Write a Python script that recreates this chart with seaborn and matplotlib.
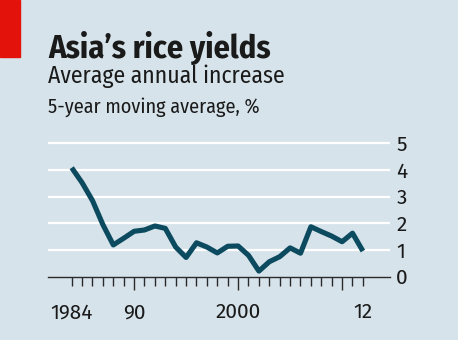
import matplotlib
matplotlib.use("Agg")
import matplotlib.pyplot as plt
import seaborn as sns
import pandas as pd
from matplotlib.patches import Rectangle

# ---- data ----
years = list(range(1984, 2013))
values = [4.08, 3.52, 2.85, 1.95, 1.19, 1.44, 1.70, 1.75, 1.90, 1.81,
          1.11, 0.72, 1.27, 1.11, 0.89, 1.14, 1.15, 0.80, 0.21, 0.56,
          0.75, 1.08, 0.88, 1.87, 1.69, 1.52, 1.31, 1.63, 0.96]
yticks = [0, 1, 2, 3, 4, 5]
xtick_pos = [1984, 1990, 2000, 2010, 2012]
xtick_labels = ["1984", "90", "2000", "", "12"]
title = "Asia\u2019s rice yields"
subtitle = "Average annual increase"
subsub = "5-year moving average, %"

BG = "#d6e3ea"
LINE = "#0c4b5f"
RED = "#e3120b"
TXT = "#1a1a1a"

sns.set_style("white", rc={"axes.facecolor": BG, "figure.facecolor": BG})
cond = ["Fira Sans Condensed", "DejaVu Sans"]
plt.rcParams["font.family"] = ["Fira Sans", "DejaVu Sans"]

df = pd.DataFrame({"year": years, "value": values})

W, H = 458, 340
fig = plt.figure(figsize=(W / 100, H / 100), dpi=100, facecolor=BG)
left, right = 48, 390
y0_px, unit = 276.7, 26.7
ymax = 5.07
ax_top = y0_px - ymax * unit
ax = fig.add_axes([left / W, (H - y0_px) / H, (right - left) / W, (y0_px - ax_top) / H])
ax.set_facecolor(BG)

px_per_year = 10.4
x_left = 1984 - (71.7 - left) / px_per_year
x_right = x_left + (right - left) / px_per_year

for v in yticks[1:]:
    ax.axhline(v, color="white", lw=1.6, zorder=1)

sns.lineplot(data=df, x="year", y="value", ax=ax, color=LINE, linewidth=3.7,
             zorder=3, solid_capstyle="butt", solid_joinstyle="round")

ax.set_xlim(x_left, x_right)
ax.set_ylim(0, ymax)
ax.set_xlabel("")
ax.set_ylabel("")

for s in ["top", "left", "right"]:
    ax.spines[s].set_visible(False)
ax.spines["bottom"].set_color("#2a2a2a")
ax.spines["bottom"].set_linewidth(1.0)
ax.spines["bottom"].set_zorder(4)

ax.set_xticks(xtick_pos)
ax.set_xticklabels(xtick_labels)
ax.set_xticks(years, minor=True)
ax.tick_params(axis="x", which="both", bottom=True, top=False, direction="out")
ax.tick_params(axis="x", which="major", length=6.5, width=1.0, color="#2a2a2a",
               pad=12.3, labelsize=15, labelcolor=TXT)
ax.tick_params(axis="x", which="minor", length=6.5, width=1.0, color="#2a2a2a")
for i, t in enumerate(ax.xaxis.get_major_ticks()):
    if xtick_pos[i] in (1990, 2000, 2010):
        t.tick1line.set_markersize(9.4)

ax.yaxis.tick_right()
ax.set_yticks(yticks)
ax.set_yticklabels([str(v) for v in yticks])
ax.tick_params(axis="y", which="both", length=0, pad=4.5, labelsize=15, labelcolor=TXT)

# red bar
fig.patches.append(Rectangle((0, 1 - 57 / H), 20 / W, 57 / H, transform=fig.transFigure,
                             color=RED, zorder=0))

fig.text(48 / W, 1 - 58 / H, title, fontsize=23.3, fontweight="bold", color=TXT,
         family=cond, va="baseline", ha="left")
fig.text(48 / W, 1 - 82.5 / H, subtitle, fontsize=17, color=TXT,
         family=cond, va="baseline", ha="left")
fig.text(48 / W, 1 - 113 / H, subsub, fontsize=14.5, color=TXT,
         family=cond, va="baseline", ha="left")

fig.savefig("out.png", dpi=100, facecolor=BG)
